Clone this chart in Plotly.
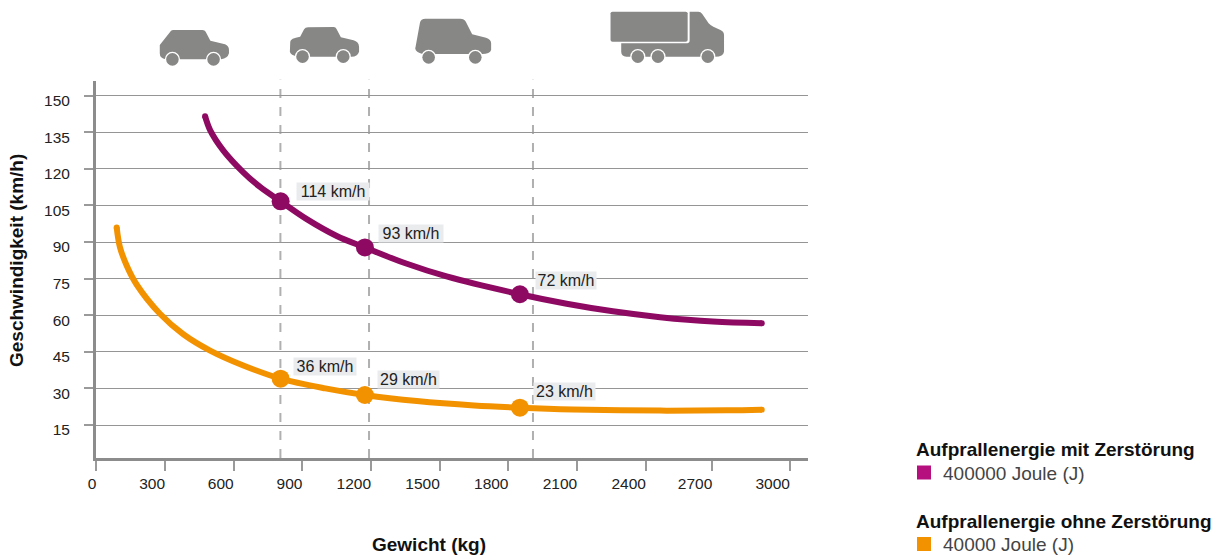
import re
import plotly.graph_objects as go

# ---- data ----
purple_x = [475, 497, 555, 642, 715, 805, 919, 1050, 1173, 1350, 1530, 1850, 2054, 2256, 2462, 2693, 2906]
purple_y = [141.6, 135.9, 127.5, 118.6, 112.6, 106.7, 99.4, 92.5, 87.8, 81.3, 75.9, 68.6, 64.7, 61.6, 59.2, 57.4, 56.7]
orange_x = [89, 103, 133, 176, 278, 380, 497, 642, 805, 1000, 1173, 1400, 1650, 1850, 2082, 2462, 2753, 2906]
orange_y = [96.0, 88.0, 80.3, 72.6, 60.6, 52.2, 45.5, 39.4, 34.0, 30.0, 27.3, 24.8, 23.0, 22.1, 21.4, 20.9, 21.0, 21.3]
point_x = [805, 1173, 1850]
purple_point_y = [106.7, 87.8, 68.6]
orange_point_y = [34.0, 27.3, 22.1]
purple_labels = ["114 km/h", "93 km/h", "72 km/h"]
orange_labels = ["36 km/h", "29 km/h", "23 km/h"]
class_limits = [804, 1191, 1907]
x_tick_positions = [0, 300, 600, 900, 1200, 1500, 1800, 2100, 2400, 2690, 3029]
x_tick_labels = ["0", "300", "600", "900", "1200", "1500", "1800", "2100", "2400", "2700", "3000"]
y_ticks = [15, 30, 45, 60, 75, 90, 105, 120, 135, 150]
y_tick_labels = ["15", "30", "45", "60", "75", "90", "105", "120", "135", "150"]

PURPLE = "#8e0a62"
ORANGE = "#f39200"
SW_PURPLE = "#b5107e"
GREY = "#878786"
FONT = "Liberation Sans"
W, H = 1219, 555
L, R, T, B = 96, 411, 81, 97
ZX, ZY = 2.529, 3.0


def px(x):
    return (x - L) / (W - L - R)


def py(y):
    return 1 - (y - T) / (H - T - B)


def icon_path(d):
    """Icon outline given in zoomed-crop coordinates, converted to paper coordinates."""
    toks = re.findall(r"[A-Za-z]|-?[\d.]+", d)
    out, is_x = [], True
    for t in toks:
        if t.isalpha():
            out.append(t)
            is_x = True
        else:
            v = float(t)
            out.append(f"{px(v / ZX + 140):.5f}" if is_x else f"{py(v / ZY):.5f}")
            is_x = not is_x
    return " ".join(out)


def circle(cx, cy, r, color):
    return dict(type="circle", xref="paper", yref="paper", layer="above",
                x0=px(140 + cx / ZX - r), x1=px(140 + cx / ZX + r),
                y0=py(cy / ZY - r), y1=py(cy / ZY + r),
                fillcolor=color, line=dict(width=0))


bodies = [
    "M50 135 L78 93 Q80 90 85 90 L158 90 Q164 90 166 95 L178 122 L215 133 Q225 138 225 150 L225 160 Q222 175 205 178 L65 178 Q50 175 50 160 Z",
    "M380 125 Q380 115 405 110 L415 88 Q418 82 425 82 L490 81 Q495 81 497 87 L508 112 L540 121 Q553 125 554 140 L554 155 Q550 170 535 170 L400 170 Q380 165 379 155 Z",
    "M697 140 L708 68 Q710 56 722 56 L810 56 Q820 56 824 65 L840 103 L875 113 Q888 118 888 130 L888 150 Q885 162 865 162 L715 162 Q697 158 696 145 Z",
    "M1190 40 Q1190 35 1195 35 L1380 35 Q1385 35 1385 40 L1385 120 Q1385 125 1380 125 L1195 125 Q1190 125 1190 120 Z",
    "M1390 35 L1412 35 Q1418 35 1422 42 L1438 70 Q1442 76 1450 80 L1468 90 Q1477 95 1477 105 L1477 155 Q1475 170 1455 170 L1230 170 Q1217 168 1217 155 L1217 130 L1380 130 Q1390 130 1390 122 Z",
]
wheels = [(82, 178), (186, 178), (411, 170), (514, 170), (730, 172), (848, 172),
          (1259, 170), (1310, 170), (1436, 170)]

shapes = []
for lim in class_limits:
    shapes.append(dict(type="line", xref="x", yref="paper", x0=lim, x1=lim, y0=0, y1=1.003,
                       layer="below", line=dict(color="#b0b0b0", width=2, dash="9px,9px")))
for b in bodies:
    shapes.append(dict(type="path", xref="paper", yref="paper", layer="above",
                       path=icon_path(b), fillcolor=GREY, line=dict(width=0)))
for cx, cy in wheels:
    shapes.append(circle(cx, cy, 7.6, "white"))
    shapes.append(circle(cx, cy, 6.3, GREY))
for y0, col in [(465.5, SW_PURPLE), (537, ORANGE)]:
    shapes.append(dict(type="rect", xref="paper", yref="paper", x0=px(917), x1=px(931),
                       y0=py(y0), y1=py(y0 + 14), fillcolor=col, line=dict(width=0)))

fig = go.Figure()
for xs, ys, col in [(orange_x, orange_y, ORANGE), (purple_x, purple_y, PURPLE)]:
    fig.add_trace(go.Scatter(x=xs, y=ys, mode="lines", showlegend=False, hoverinfo="skip",
                             line=dict(color=col, width=6, shape="spline", smoothing=1.0)))
    fig.add_trace(go.Scatter(x=[xs[0], xs[-1]], y=[ys[0], ys[-1]], mode="markers", showlegend=False,
                             hoverinfo="skip", marker=dict(color=col, size=6)))
fig.add_trace(go.Scatter(x=point_x, y=purple_point_y, mode="markers", showlegend=False,
                         marker=dict(color=PURPLE, size=18)))
fig.add_trace(go.Scatter(x=point_x, y=orange_point_y, mode="markers", showlegend=False,
                         marker=dict(color=ORANGE, size=18)))

ann = []
shifts_p = [(15, 10, 72), (13, 13.5, 64), (15, 14, 60)]
shifts_o = [(12, 12, 62), (12, 15.5, 61), (13, 15.7, 61)]
for labels, ys, shifts in [(purple_labels, purple_point_y, shifts_p), (orange_labels, orange_point_y, shifts_o)]:
    for t, x, y, (dx, dy, w) in zip(labels, point_x, ys, shifts):
        ann.append(dict(text=t, x=x, y=y, xref="x", yref="y", xanchor="left", yanchor="middle",
                        xshift=dx, yshift=dy, showarrow=False, bgcolor="#e9ebed", borderpad=0,
                        width=w, height=17, align="center",
                        font=dict(family=FONT, size=16, color="#222222")))


def page_text(t, x, y, size, color="#111111", bold=False, angle=0, anchor="left"):
    return dict(text=f"<b>{t}</b>" if bold else t, x=px(x), y=py(y), xref="paper", yref="paper",
                xanchor=anchor, yanchor="middle", showarrow=False, textangle=angle,
                font=dict(family=FONT, size=size, color=color))


ann += [
    page_text("Gewicht (kg)", 428.5, 544, 19, bold=True, anchor="center"),
    page_text("Geschwindigkeit (km/h)", 16, 261, 19, bold=True, angle=-90, anchor="center"),
    page_text("Aufprallenergie mit Zerstörung", 914, 449, 19, bold=True),
    page_text("400000 Joule (J)", 940.5, 473, 19, color="#444444"),
    page_text("Aufprallenergie ohne Zerstörung", 914, 521, 19, bold=True),
    page_text("40000 Joule (J)", 940.5, 544, 19, color="#444444"),
]

# Labels sit left of their ticks in the reference: a no-break space is half a digit wide,
# so two per digit make the digits end at the tick.
padded_x_labels = [t + "\u00a0" * (2 * len(t)) for t in x_tick_labels]

fig.update_layout(
    width=W, height=H, margin=dict(l=L, r=R, t=T, b=B, autoexpand=False),
    paper_bgcolor="white", plot_bgcolor="white", showlegend=False,
    shapes=shapes, annotations=ann,
    font=dict(family=FONT, size=15.5, color="#222222"),
    xaxis=dict(range=[-1.3, 3108], tickmode="array", tickvals=x_tick_positions, ticktext=padded_x_labels,
               ticks="outside", ticklen=10, tickwidth=1.5, tickcolor="#9a9a9a", tickangle=0,
               ticklabelposition="outside", ticklabelstandoff=-1,
               showline=True, linewidth=3, linecolor="#8c8c8c", showgrid=False, zeroline=False),
    yaxis=dict(range=[1.47, 156.03], tickmode="array", tickvals=y_ticks, ticktext=y_tick_labels,
               ticks="outside", ticklen=9, tickwidth=1.5, tickcolor="#9a9a9a",
               ticklabelposition="outside", ticklabelshift=5, ticklabelstandoff=11,
               showline=True, linewidth=3, linecolor="#8c8c8c",
               showgrid=True, gridcolor="#959595", gridwidth=1.4, zeroline=False),
)
fig.write_html("out.html", config={"displayModeBar": False}, post_script="document.body.style.margin='0';")
